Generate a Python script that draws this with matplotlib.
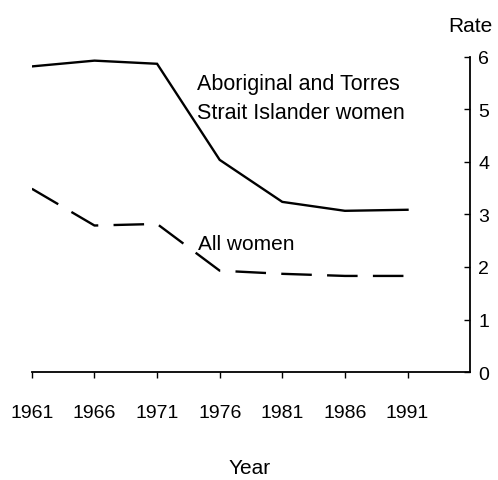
import matplotlib
matplotlib.use("Agg")
import matplotlib.pyplot as plt

plt.rcParams['font.family'] = ['Liberation Sans', 'DejaVu Sans']
plt.rcParams['lines.scale_dashes'] = False

years = [1961, 1966, 1971, 1976, 1981, 1986, 1991]
aboriginal = [5.82, 5.93, 5.87, 4.04, 3.24, 3.07, 3.09]
all_women = [3.49, 2.79, 2.82, 1.93, 1.87, 1.83, 1.83]
y_ticks = [0, 1, 2, 3, 4, 5, 6]

fig = plt.figure(figsize=(4.98, 4.81), dpi=100)
ax = fig.add_axes([0.064, 0.2245, 0.88, 0.655])

ax.plot(years, aboriginal, color='black', lw=1.7, solid_joinstyle='miter')
ax.plot(years, all_women, color='black', lw=1.7, dashes=(22, 11))

ax.set_xlim(1961, 1996)
ax.set_ylim(0, 6)

for s in ['left', 'top']:
    ax.spines[s].set_visible(False)
ax.spines['right'].set_linewidth(1.3)
ax.spines['bottom'].set_linewidth(1.3)

ax.set_xticks(years)
ax.set_xticklabels([str(y) for y in years], fontsize=14)
ax.tick_params(axis='x', direction='out', length=4, width=1, pad=19)

ax.yaxis.tick_right()
ax.set_yticks(y_ticks)
ax.set_yticklabels([str(v) for v in y_ticks], fontsize=14)
ax.tick_params(axis='y', direction='in', length=4, width=1, pad=6)

ax.text(1974.2, 5.21, 'Aboriginal and Torres\nStrait Islander women', fontsize=15.5,
        linespacing=1.5, va='center', ha='left')
ax.text(1974.3, 2.44, 'All women', fontsize=15, va='center', ha='left')

fig.text(0.944, 0.945, 'Rate', fontsize=15, ha='center', va='center')
fig.text(0.502, 0.025, 'Year', fontsize=15, ha='center', va='center')

fig.savefig('out.png', dpi=100)
